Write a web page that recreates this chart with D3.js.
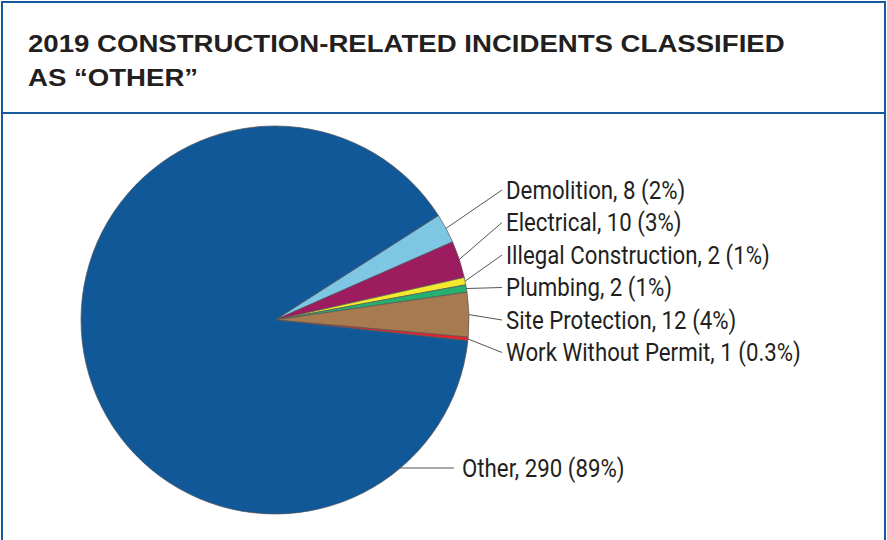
<html>
<head>
<script src="https://d3js.org/d3.v7.min.js"></script>
<style>
body { margin: 0; background: #fff; }
svg text { fill: #231f20; }
.title { font-family: "Liberation Sans", Arial, Helvetica, sans-serif; font-weight: bold; font-size: 23px; }
.lbl { font-family: "Roboto", "Liberation Sans", sans-serif; font-size: 26.5px; }
.lead { stroke: #555; stroke-width: 1px; fill: none; }
.slice { stroke: #555; stroke-width: 0.7px; }
</style>
</head>
<body>
<svg id="chart"></svg>
<script>
// data
var categories = ["Demolition", "Electrical", "Illegal Construction", "Plumbing", "Site Protection", "Work Without Permit", "Other"];
var counts = [8, 10, 2, 2, 12, 1, 290];
var pctLabels = ["2%", "3%", "1%", "1%", "4%", "0.3%", "89%"];
var colors = ["#7dc7e5", "#9c1c5f", "#f3e92e", "#26b06f", "#a77b4f", "#e3262b", "#115899"];
var titleLines = ["2019 CONSTRUCTION-RELATED INCIDENTS CLASSIFIED", "AS \u201cOTHER\u201d"];

var W = 887, H = 540;
var c = { x: 275, y: 320, r: 194 };

var svg = d3.select("#chart").attr("width", W).attr("height", H);

// frame
var blue = "#17599c";
svg.append("path")
  .attr("d", "M2,540 V2 H885 V540")
  .attr("fill", "none").attr("stroke", blue).attr("stroke-width", 2);
svg.append("line").attr("x1", 2).attr("x2", 885).attr("y1", 113).attr("y2", 113)
  .attr("stroke", blue).attr("stroke-width", 2);

svg.selectAll(".title").data(titleLines).enter().append("text")
  .attr("class", "title")
  .attr("transform", function(d, i) { return "translate(28," + (52 + i * 34) + ") scale(1.2,1)"; })
  .text(function(d) { return d; });

var data = categories.map(function(k, i) {
  return { name: k, value: counts[i], pct: pctLabels[i], color: colors[i] };
});

var startA = 57.4 * Math.PI / 180;
var pie = d3.pie().sort(null).value(function(d) { return d.value; })
  .startAngle(startA).endAngle(startA + 2 * Math.PI);
var arcs = pie(data);
var arc = d3.arc().innerRadius(0).outerRadius(c.r);

var g = svg.append("g").attr("transform", "translate(" + c.x + "," + c.y + ")");
g.selectAll(".slice").data(arcs).enter().append("path")
  .attr("class", "slice")
  .attr("d", arc)
  .attr("fill", function(d) { return d.data.color; });

// labels
var lx = 506, ly0 = 189, ldy = 32.5;
function labelPos(d, i) {
  if (d.data.name == "Other") return [462, 467];
  return [lx, ly0 + i * ldy];
}
function edge(d) {
  var a = (d.startAngle + d.endAngle) / 2;
  return [c.x + c.r * Math.sin(a), c.y - c.r * Math.cos(a)];
}

svg.selectAll(".lead").data(arcs).enter().append("line")
  .attr("class", "lead")
  .attr("x1", function(d) { var e = edge(d); return d.data.name == "Other" ? 400 : e[0]; })
  .attr("y1", function(d, i) { var e = edge(d); return d.data.name == "Other" ? labelPos(d, i)[1] + 1 : e[1]; })
  .attr("x2", function(d, i) { return labelPos(d, i)[0] - (d.data.name == "Other" ? 8 : 4); })
  .attr("y2", function(d, i) { return labelPos(d, i)[1] + 1; });

svg.selectAll(".lbl").data(arcs).enter().append("text")
  .attr("class", "lbl")
  .attr("transform", function(d, i) { var p = labelPos(d, i); return "translate(" + p[0] + "," + p[1] + ") scale(0.84,1)"; })
  .attr("dy", "0.36em")
  .text(function(d) { return d.data.name + ", " + d.data.value + " (" + d.data.pct + ")"; });
</script>
</body>
</html>
